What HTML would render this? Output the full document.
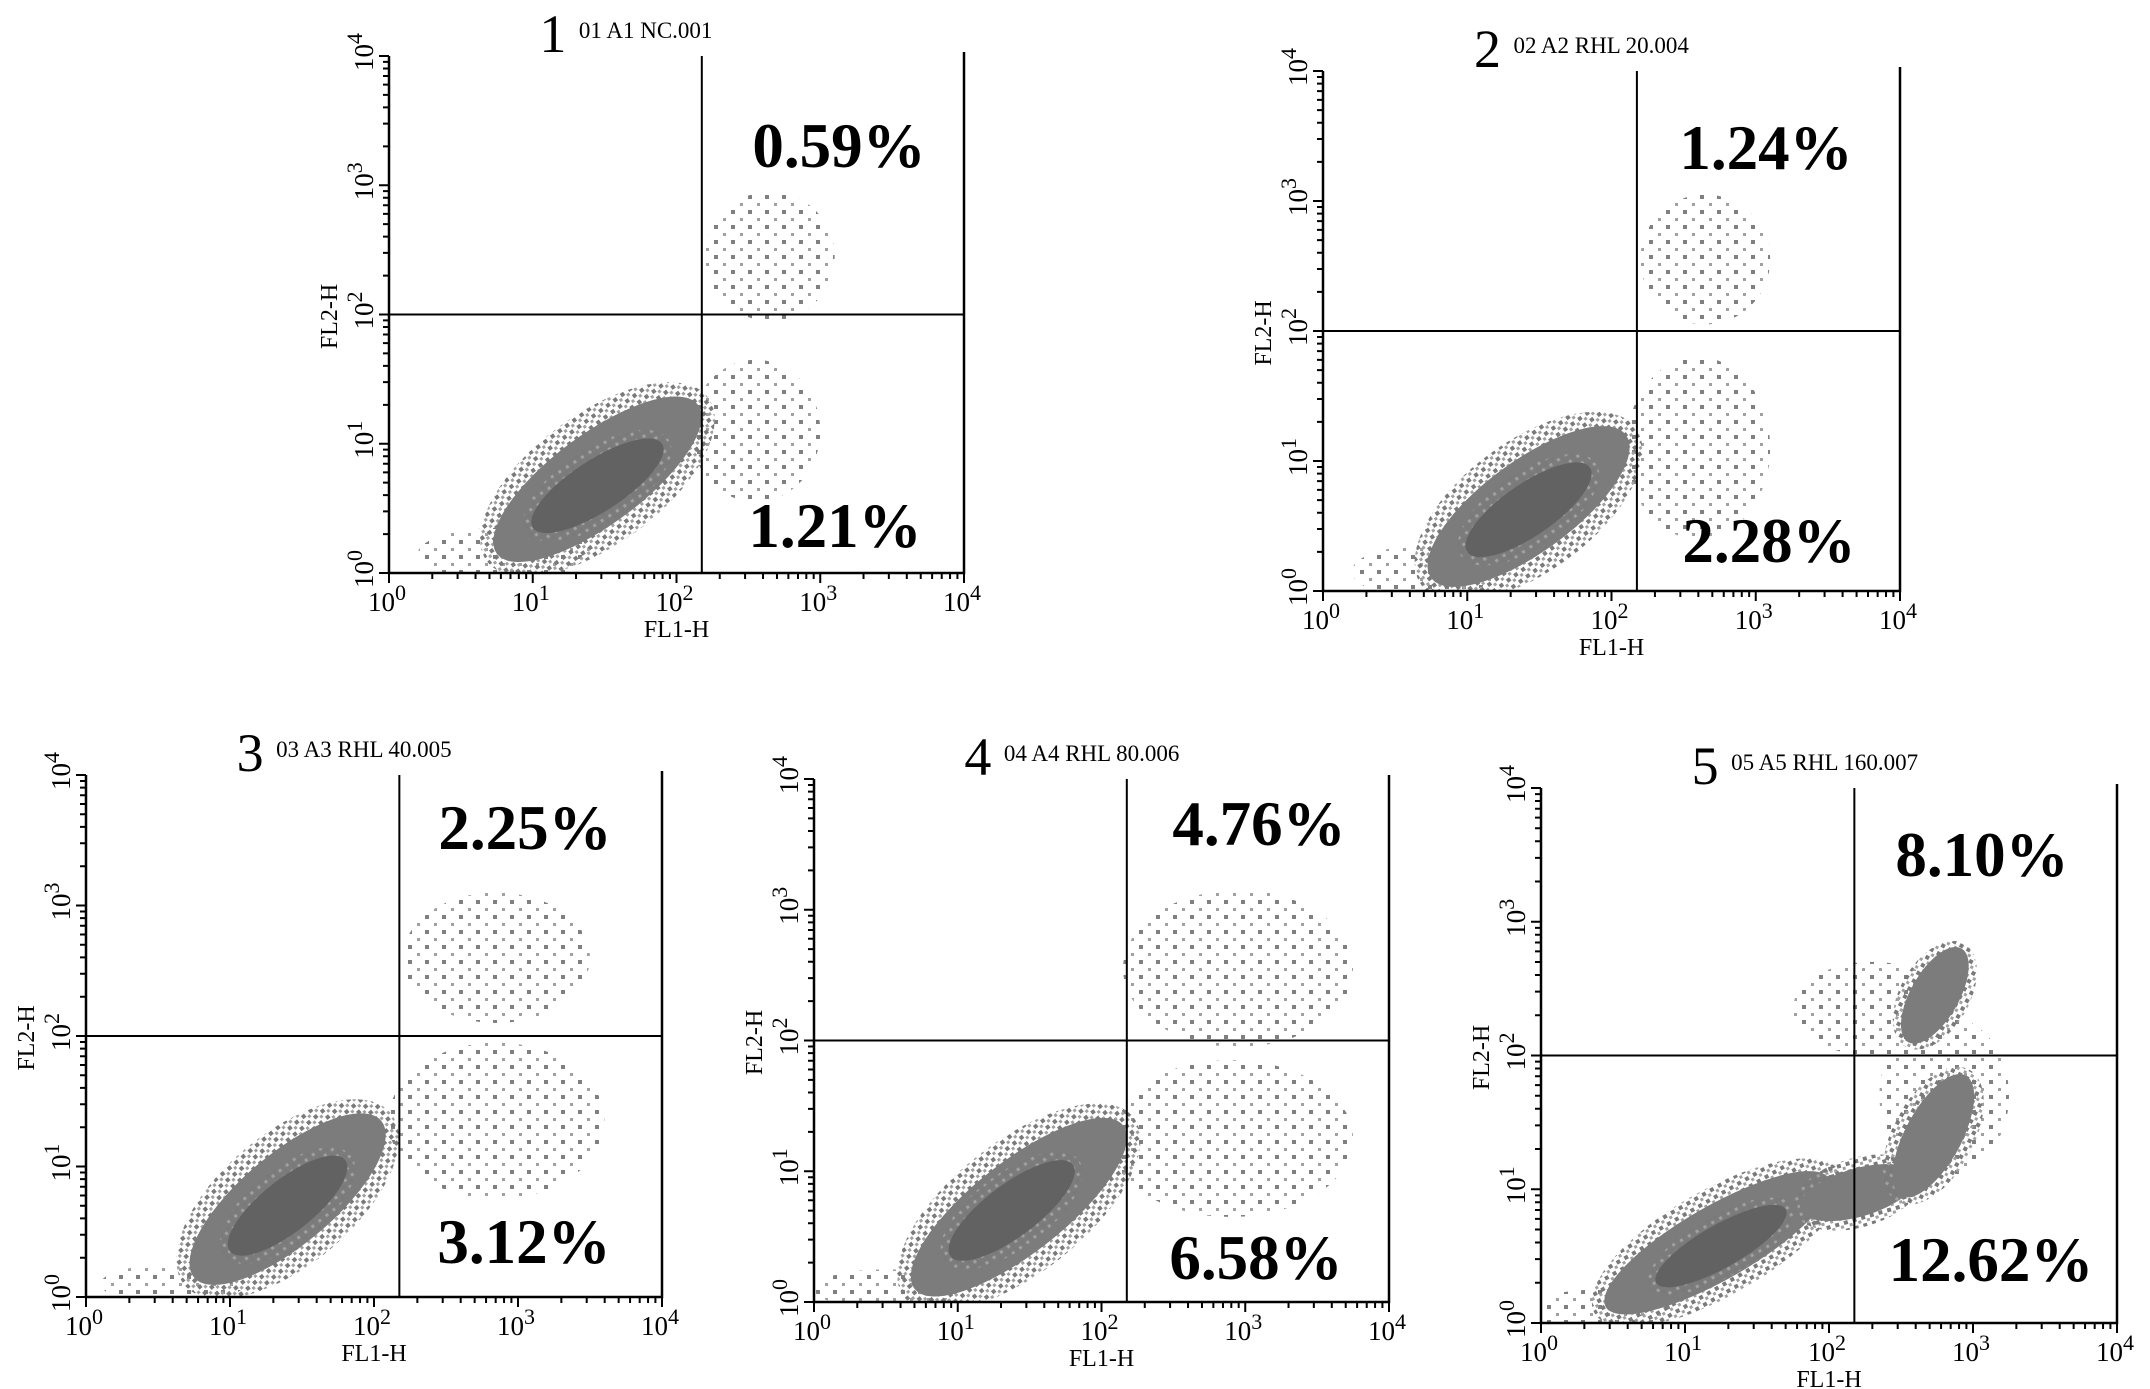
<!DOCTYPE html>
<html><head><meta charset="utf-8"><style>
html,body{margin:0;padding:0;background:#fff}
svg{display:block;font-family:"Liberation Serif",serif}
</style></head><body>
<svg id="fig" width="2150" height="1389" viewBox="0 0 2150 1389" xmlns="http://www.w3.org/2000/svg">
<defs>
<pattern id="dots" width="9" height="8" patternUnits="userSpaceOnUse"><rect x="0" y="0" width="4" height="4" fill="#7a7a7a"/><rect x="5" y="4" width="3" height="3" fill="#a0a0a0"/></pattern>
<pattern id="dots2" width="17" height="15" patternUnits="userSpaceOnUse"><rect x="0" y="0" width="4" height="4" fill="#808080"/><rect x="9" y="8" width="3" height="3" fill="#a0a0a0"/></pattern>
</defs>
</svg>
<script>
// Panel frames (pixel boxes) — layout, not data
const panelBoxes = [[389,56,964,573],[1323,71,1900,591],[86,775,662,1297],[814,779,1389,1302],[1541,788,2117,1323]];
const upperLabelPos = [[839,167],[1766,169],[525,849],[1259,845],[1982,876]];
const lowerLabelPos = [[835,547],[1769,562],[524,1263],[1256,1279],[1991,1281]];
// Data
const panelNumbers = ["1","2","3","4","5"];
const panelTitles = ["01 A1 NC.001","02 A2 RHL 20.004","03  A3 RHL 40.005","04 A4 RHL 80.006","05 A5  RHL 160.007"];
const gateX = [150,150,150,150,150];
const gateY = [100,100,100,100,100];
const upperRightPct = ["0.59%","1.24%","2.25%","4.76%","8.10%"];
const lowerRightPct = ["1.21%","2.28%","3.12%","6.58%","12.62%"];
const tickLabels = ["0","1","2","3","4"];
// dense populations: [logX1, logY1, logX2, logY2, widthLog]
const dense1 = [[0.75,0.15,2.15,1.3,0.7],[1.0,0.35,1.9,1.0,0.4]];
const dense2 = [[0.75,0.1,2.1,1.2,0.7],[1.0,0.3,1.85,0.95,0.4]];
const dense3 = [[0.75,0.15,2.05,1.35,0.7],[1.0,0.35,1.8,1.05,0.4]];
const dense4 = [[0.7,0.1,2.15,1.35,0.7],[0.95,0.35,1.8,1.05,0.4]];
const dense5 = [[0.45,0.12,2.0,1.08,0.55],[0.8,0.3,1.7,0.85,0.32],[1.8,0.85,2.6,1.1,0.36],[2.5,0.95,2.95,1.85,0.42],[2.55,2.1,2.92,2.8,0.36]];
// sparse populations: [centerLogX, centerLogY, radiusX, radiusY]
const sparse1 = [[2.65,2.45,0.45,0.5],[2.55,1.1,0.45,0.55],[0.8,0.15,0.6,0.2]];
const sparse2 = [[2.65,2.55,0.45,0.5],[2.6,1.1,0.5,0.7],[0.7,0.15,0.5,0.2]];
const sparse3 = [[2.85,2.6,0.65,0.5],[2.85,1.35,0.75,0.6],[0.6,0.1,0.5,0.15]];
const sparse4 = [[2.95,2.55,0.8,0.6],[2.9,1.25,0.85,0.6],[0.5,0.1,0.5,0.15]];
const sparse5 = [[2.3,2.35,0.55,0.35],[2.8,1.7,0.45,0.6],[0.4,0.1,0.5,0.15]];
const denseSets = [dense1,dense2,dense3,dense4,dense5];
const sparseSets = [sparse1,sparse2,sparse3,sparse4,sparse5];

const NS="http://www.w3.org/2000/svg";
const svg=document.getElementById('fig');
function mk(tag,attrs,parent){const e=document.createElementNS(NS,tag);for(const k in attrs)e.setAttribute(k,attrs[k]);(parent||svg).appendChild(e);return e;}

panelBoxes.forEach((b,i)=>{
  const [L,T,R,B]=b;
  const g=mk('g',{});
  
  
  const sx=v=>L+(v/4)*(R-L);
  const sy=v=>B-(v/4)*(B-T);
  const clipId='clip'+i;
  const cp=mk('clipPath',{id:clipId},g);mk('rect',{x:L,y:T,width:R-L,height:B-T},cp);
  const data=mk('g',{'clip-path':'url(#'+clipId+')'},g);
  
  
  sparseSets[i].forEach((s,j)=>{
    const e=mk('ellipse',{cx:sx(s[0]),cy:sy(s[1]),rx:s[2]/4*(R-L),ry:s[3]/4*(B-T),fill:'url(#dots2)'},data);
    
    
  });
  denseSets[i].forEach((d,j)=>{
    const x1=sx(d[0]),y1=sy(d[1]),x2=sx(d[2]),y2=sy(d[3]);
    const cx=(x1+x2)/2,cy=(y1+y2)/2,len=Math.hypot(x2-x1,y2-y1)/2;
    const ang=Math.atan2(y2-y1,x2-x1)*180/Math.PI;
    const w=d[4]/4*(B-T);
    const core=(j===1);
    const halo=mk('ellipse',{cx:cx,cy:cy,rx:len*1.1,ry:w*0.72,fill:'url(#dots)',transform:`rotate(${ang} ${cx} ${cy})`},data);
    
    
    const e=mk('ellipse',{cx:cx,cy:cy,rx:len,ry:w/2,fill:core?'#626262':'#7c7c7c',transform:`rotate(${ang} ${cx} ${cy})`},data);
    
    
  });
  const ax=mk('path',{d:`M${L} ${T}V${B}H${R}V${T-4}`,stroke:'#000','stroke-width':2.5,fill:'none'},g);
  
  
  let tk='';
  for(let dd=0;dd<4;dd++)for(let m=1;m<=10;m++){
    const v=dd+Math.log10(m);const maj=(m===1||m===10);const len=maj?10:6;
    tk+=`M${sx(v)} ${B}v${len}M${L} ${sy(v)}h${-len}`;
  }
  mk('path',{d:tk,stroke:'#000','stroke-width':2},g);
  tickLabels.forEach((t,k)=>{
    const xt=mk('text',{x:sx(k)-2,y:B+38,'font-size':27,'text-anchor':'middle'},g);
    
    
    xt.innerHTML=`10<tspan dy="-11" font-size="22">${t}</tspan>`;
    const yt=mk('text',{x:0,y:0,'font-size':27,'text-anchor':'middle',transform:`translate(${L-16} ${sy(k)-4}) rotate(-90)`},g);
    
    
    yt.innerHTML=`10<tspan dy="-11" font-size="22">${t}</tspan>`;
  });
  const xl=mk('text',{x:(L+R)/2,y:B+64,'font-size':24,'text-anchor':'middle'},g);xl.textContent='FL1-H';
  
  
  const yl=mk('text',{x:0,y:0,'font-size':24,'text-anchor':'middle',transform:`translate(${L-52} ${sy(2)+2}) rotate(-90)`},g);yl.textContent='FL2-H';
  
  
  const gx=sx(Math.log10(gateX[i])),gy=sy(Math.log10(gateY[i]));
  const gl=mk('path',{d:`M${gx} ${T}V${B}M${L} ${gy}H${R}`,stroke:'#000','stroke-width':2},g);
  
  
  const ur=mk('text',{x:upperLabelPos[i][0],y:upperLabelPos[i][1],'font-size':63,'font-weight':'bold','text-anchor':'middle'},g);ur.textContent=upperRightPct[i];
  
  
  const lr=mk('text',{x:lowerLabelPos[i][0],y:lowerLabelPos[i][1],'font-size':63,'font-weight':'bold','text-anchor':'middle'},g);lr.textContent=lowerRightPct[i];
  
  
  const tn=mk('text',{x:L+(R-L)*0.285,y:T-4,'font-size':54,'text-anchor':'middle'},g);tn.textContent=panelNumbers[i];
  
  
  const tt=mk('text',{x:L+(R-L)*0.285+26,y:T-18,'font-size':23},g);tt.textContent=panelTitles[i];
  
  
});
</script>
</body></html>
